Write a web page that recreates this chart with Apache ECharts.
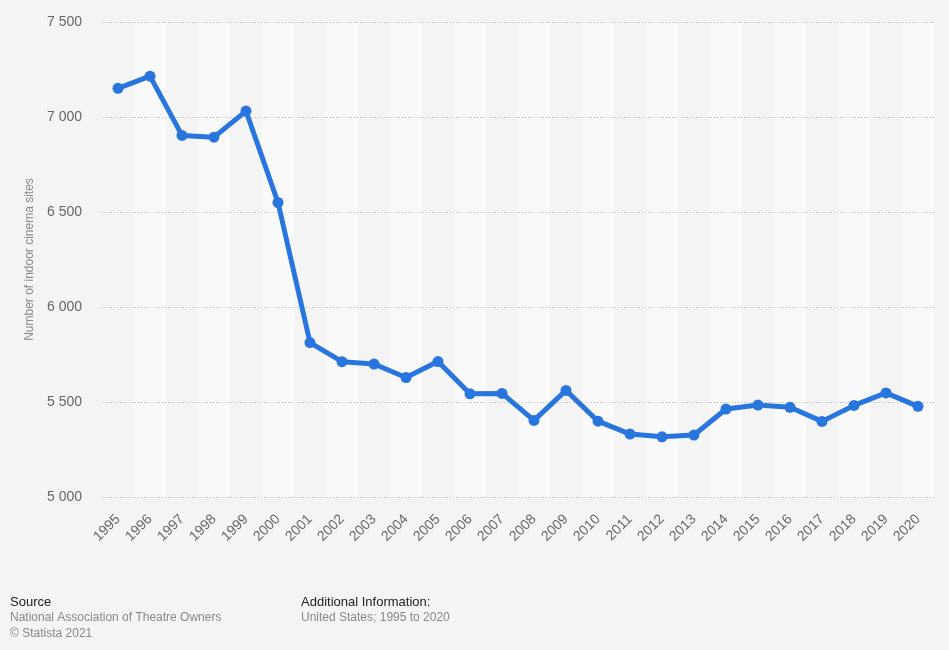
<!DOCTYPE html>
<html>
<head>
<meta charset="utf-8">
<script src="https://cdn.jsdelivr.net/npm/echarts@6/dist/echarts.min.js"></script>
<style>
html,body{margin:0;padding:0;background:#f4f4f4;}
#c{width:949px;height:650px;}
</style>
</head>
<body>
<div id="c"></div>
<script>
const years = ['1995','1996','1997','1998','1999','2000','2001','2002','2003','2004','2005','2006','2007','2008','2009','2010','2011','2012','2013','2014','2015','2016','2017','2018','2019','2020'];
const sites = [7151,7215,6903,6894,7031,6550,5813,5712,5700,5629,5713,5543,5545,5403,5561,5399,5331,5317,5326,5463,5484,5472,5398,5482,5548,5477];
const yTicks = [5000,5500,6000,6500,7000,7500];

const chart = echarts.init(document.getElementById('c'));
const fmt = v => String(v).replace(/\B(?=(\d{3})+(?!\d))/g, ' ');
chart.setOption({
  backgroundColor: '#f4f4f4',
  textStyle: {fontFamily: 'Liberation Sans, Arial, sans-serif'},
  grid: {left: 102, right: 15, top: 22, bottom: 153},
  xAxis: {
    type: 'category',
    data: years,
    boundaryGap: true,
    z: 0,
    axisLine: {show: false},
    axisTick: {show: false},
    axisLabel: {rotate: 45, color: '#666', fontSize: 14, margin: 20, interval: 0},
    splitArea: {show: true, interval: 0, areaStyle: {color: ['rgba(0,0,0,0)', '#fafafa']}},
    splitLine: {show: false}
  },
  yAxis: {
    type: 'value',
    z: 3,
    min: yTicks[0],
    max: yTicks[yTicks.length - 1],
    interval: 500,
    name: 'Number of indoor cinema sites',
    nameLocation: 'middle',
    nameGap: 66,
    nameTextStyle: {color: '#888', fontSize: 12},
    axisLine: {show: false},
    axisTick: {show: false},
    axisLabel: {color: '#666', fontSize: 14, margin: 20, formatter: fmt},
    splitLine: {lineStyle: {type: [1, 2], color: '#c4c4c4', width: 1}}
  },
  series: [{
    type: 'line',
    z: 5,
    data: sites,
    lineStyle: {color: '#2876dd', width: 5},
    itemStyle: {color: '#2876dd'},
    symbol: 'circle',
    symbolSize: 11,
    showSymbol: true
  }],
  graphic: [
    {type: 'text', left: 10, top: 596, style: {text: 'Source', fill: '#222', font: '13px Liberation Sans, Arial, sans-serif'}},
    {type: 'text', left: 10, top: 612, style: {text: 'National Association of Theatre Owners', fill: '#888', font: '12px Liberation Sans, Arial, sans-serif'}},
    {type: 'text', left: 10, top: 628, style: {text: '© Statista 2021', fill: '#888', font: '12px Liberation Sans, Arial, sans-serif'}},
    {type: 'text', left: 301, top: 596, style: {text: 'Additional Information:', fill: '#222', font: '13px Liberation Sans, Arial, sans-serif'}},
    {type: 'text', left: 301, top: 612, style: {text: 'United States; 1995 to 2020', fill: '#888', font: '12px Liberation Sans, Arial, sans-serif'}}
  ]
});
</script>
</body>
</html>
